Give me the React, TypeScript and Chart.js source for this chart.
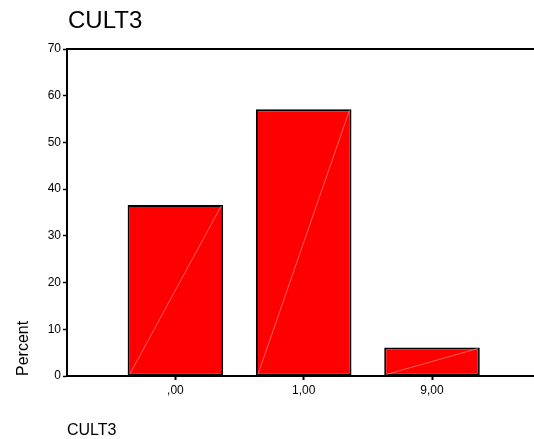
import React, { useEffect, useRef } from "react";
import { Chart, registerables } from "chart.js";

Chart.register(...registerables);

const chartTitle = "CULT3";
const xAxisTitle = "CULT3";
const yAxisTitle = "Percent";
const categories = [",00", "1,00", "9,00"];
const percents = [36.6, 57.1, 6.1];
const yTicks = [0, 10, 20, 30, 40, 50, 60, 70];

const FONT = 'Arial, "Liberation Sans", sans-serif';

const mainTitlePlugin = {
  id: "mainTitle",
  afterDraw(chart: any) {
    const ctx = chart.ctx;
    ctx.save();
    ctx.font = `24px ${FONT}`;
    ctx.fillStyle = "#000";
    ctx.textAlign = "left";
    ctx.textBaseline = "middle";
    ctx.fillText(chartTitle, chart.chartArea.left + 1, 21);
    ctx.restore();
  },
};

const diagonalPlugin = {
  id: "diagonal",
  afterDatasetsDraw(chart: any) {
    const ctx = chart.ctx;
    const meta = chart.getDatasetMeta(0);
    ctx.save();
    ctx.strokeStyle = "rgba(255,150,150,0.9)";
    ctx.lineWidth = 0.7;
    meta.data.forEach((el: any) => {
      const { x, y, base, width } = el.getProps(["x", "y", "base", "width"], true);
      ctx.beginPath();
      ctx.moveTo(x - width / 2 + 2, base - 1);
      ctx.lineTo(x + width / 2 - 2, y + 1);
      ctx.stroke();
    });
    ctx.restore();
  },
};

export default function App() {
  const ref = useRef<HTMLCanvasElement>(null);
  useEffect(() => {
    const canvas = ref.current!;
    const chart = new Chart(canvas, {
      type: "bar",
      data: {
        datasets: [
          {
            data: categories.map((_, i) => ({ x: i, y: percents[i] })),
            backgroundColor: "#ff0000",
            borderColor: "#000000",
            borderWidth: 2,
            borderSkipped: false,
            barPercentage: 0.745,
            categoryPercentage: 1,
          },
        ],
      },
      options: {
        animation: false,
        responsive: false,
        devicePixelRatio: 1,
        layout: { padding: { top: 49, left: 0, right: 0, bottom: 0 } },
        plugins: {
          legend: { display: false },
          tooltip: { enabled: false },
          title: { display: false },
        },
        scales: {
          x: {
            type: "linear",
            position: "bottom",
            offset: false,
            min: -0.845,
            max: 2.795,
            afterBuildTicks: (scale: any) => {
              scale.ticks = categories.map((_, i) => ({ value: i }));
            },
            afterFit: (scale: any) => {
              scale.height = 63;
            },
            ticks: {
              color: "#000",
              font: { family: FONT, size: 12 },
              padding: 3,
              maxRotation: 0,
              callback: (v: any) => categories[v] ?? "",
            },
            grid: {
              offset: false,
              drawOnChartArea: false,
              drawTicks: true,
              tickLength: 4,
              tickWidth: 2,
              tickColor: "#000",
            },
            border: { display: true, color: "#000", width: 2 },
            title: {
              display: true,
              text: xAxisTitle,
              align: "start",
              color: "#000",
              font: { family: FONT, size: 16, lineHeight: 1.05 },
              padding: { top: 0, bottom: 0 },
            },
          },
          x2: {
            type: "linear",
            position: "top",
            offset: false,
            min: -0.845,
            max: 2.795,
            afterFit: (scale: any) => {
              scale.height = 0;
            },
            ticks: { display: false },
            grid: { display: false, drawTicks: false, offset: false },
            border: { display: true, color: "#000", width: 2 },
          },
          y: {
            type: "linear",
            position: "left",
            min: 0,
            max: 70,
            afterBuildTicks: (scale: any) => {
              scale.ticks = yTicks.map((v) => ({ value: v }));
            },
            afterFit: (scale: any) => {
              scale.width = 67;
            },
            ticks: {
              color: "#000",
              font: { family: FONT, size: 12 },
              padding: 2,
            },
            grid: {
              drawOnChartArea: false,
              drawTicks: true,
              tickLength: 4,
              tickWidth: 1.5,
              tickColor: "#000",
            },
            border: { display: true, color: "#000", width: 2 },
            title: {
              display: true,
              text: yAxisTitle,
              align: "start",
              color: "#000",
              font: { family: FONT, size: 16 },
              padding: { top: 14, bottom: 0 },
            },
          },
        },
      } as any,
      plugins: [mainTitlePlugin, diagonalPlugin],
    });
    return () => chart.destroy();
  }, []);
  return (
    <div style={{ position: "absolute", left: 0, top: 0, width: 534, height: 439, background: "#fff" }}>
      <canvas ref={ref} width={534} height={439} style={{ display: "block" }} />
    </div>
  );
}
